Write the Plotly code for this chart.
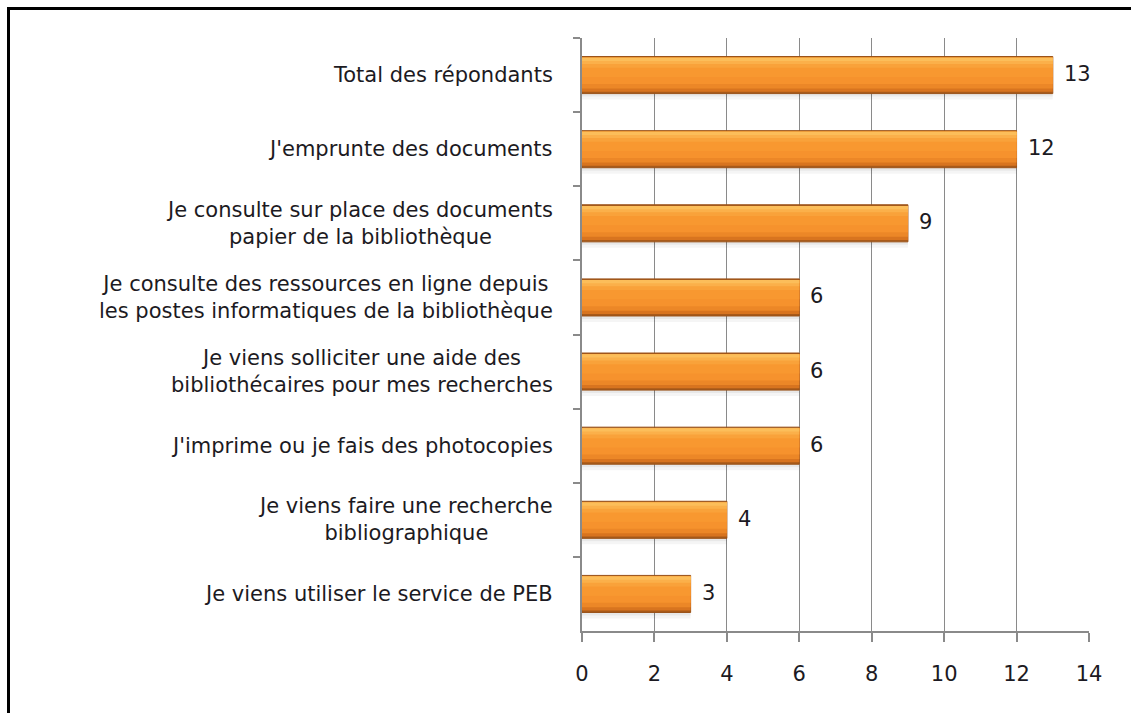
import plotly.graph_objects as go

# Survey data: what respondents do at the library
categories = [
    "Total des répondants",
    "J'emprunte des documents",
    "Je consulte sur place des documents<br>papier de la bibliothèque",
    "Je consulte des ressources en ligne depuis<br>les postes informatiques de la bibliothèque",
    "Je viens solliciter une aide des<br>bibliothécaires pour mes recherches",
    "J'imprime ou je fais des photocopies",
    "Je viens faire une recherche<br>bibliographique",
    "Je viens utiliser le service de PEB",
]
counts = [13, 12, 9, 6, 6, 6, 4, 3]
x_ticks = [0, 2, 4, 6, 8, 10, 12, 14]

W, H = 1131, 713
L, R, T, B = 582, 42, 38, 82
PW, PH = W - L - R, H - T - B

def px_x(p):
    return (p - L) / PW

def px_y(p):
    return 1 - (p - T) / PH

FONT = "DejaVu Sans"
TXT = "#1c1a22"
SIZE = 21
BAR_W = 0.5

fig = go.Figure()

# Soft shadow under each bar
for off, wd, col in [(0.25, 0.04, "rgba(0,0,0,0.09)"), (0.29, 0.04, "rgba(0,0,0,0.04)")]:
    fig.add_trace(go.Bar(
        y=categories, x=counts, orientation="h", width=wd, offset=off,
        marker=dict(color=col, line=dict(width=0)),
        hoverinfo="skip", showlegend=False,
    ))

# Vertical shading of the bar face, top to bottom (fractions of bar thickness)
shading = [
    (0.00, 1.00, "#A85A1A"),
    (0.03, 0.95, "#D8741F"),
    (0.03, 0.86, "#EC8727"),
    (0.03, 0.74, "#F6922D"),
    (0.03, 0.55, "#F89830"),
    (0.03, 0.30, "#F9A23A"),
    (0.03, 0.20, "#FBB04A"),
    (0.03, 0.12, "#FCBE5A"),
]
for i, (f0, f1, col) in enumerate(shading):
    fig.add_trace(go.Bar(
        y=categories, x=counts, orientation="h",
        width=(f1 - f0) * BAR_W, offset=-BAR_W / 2 + f0 * BAR_W,
        marker=dict(color=col,
                    line=dict(color="#9A5218", width=1) if i == 0 else dict(width=0)),
        hoverinfo="skip", showlegend=False,
    ))

annotations = []
# Value labels beyond the bar ends
for c, v in zip(categories, counts):
    annotations.append(dict(
        x=v, y=c, xref="x", yref="y", text=str(v), showarrow=False,
        xanchor="left", xshift=9, yshift=1,
        font=dict(family=FONT, size=SIZE, color=TXT),
    ))
# Centered multi-line category labels to the left of the axis
for c in categories:
    annotations.append(dict(
        x=0, y=c, xref="paper", yref="y", text=c, showarrow=False,
        xanchor="right", xshift=-27, align="center",
        font=dict(family=FONT, size=SIZE, color=TXT),
    ))

# Black frame along the top and left edges
shapes = [
    dict(type="line", xref="paper", yref="paper",
         x0=px_x(7), x1=px_x(W + 5), y0=px_y(8.5), y1=px_y(8.5),
         line=dict(color="black", width=3)),
    dict(type="line", xref="paper", yref="paper",
         x0=px_x(8.5), x1=px_x(8.5), y0=px_y(7), y1=px_y(H + 5),
         line=dict(color="black", width=3)),
]

fig.update_layout(
    width=W, height=H,
    margin=dict(l=L, r=R, t=T, b=B, pad=0),
    paper_bgcolor="white", plot_bgcolor="white",
    barmode="overlay",
    showlegend=False,
    annotations=annotations,
    shapes=shapes,
    font=dict(family=FONT, size=SIZE, color=TXT),
)
fig.update_xaxes(
    range=[0, 14], tickvals=x_ticks, ticktext=[str(t) for t in x_ticks],
    showgrid=True, gridcolor="#8A8A8A", gridwidth=1.2,
    showline=True, linecolor="#8A8A8A", linewidth=1.5,
    ticks="outside", ticklen=9, tickcolor="#8A8A8A", tickwidth=1.5,
    ticklabelstandoff=14, zeroline=False,
    tickfont=dict(family=FONT, size=SIZE, color=TXT),
)
fig.update_yaxes(
    categoryorder="array", categoryarray=categories, autorange="reversed",
    showticklabels=False, showgrid=False, zeroline=False,
    showline=True, linecolor="#8A8A8A", linewidth=1.5,
    ticks="outside", ticklen=7, tickcolor="#8A8A8A", tickwidth=1.5,
    tickson="boundaries",
)

fig.write_html("out.html")
